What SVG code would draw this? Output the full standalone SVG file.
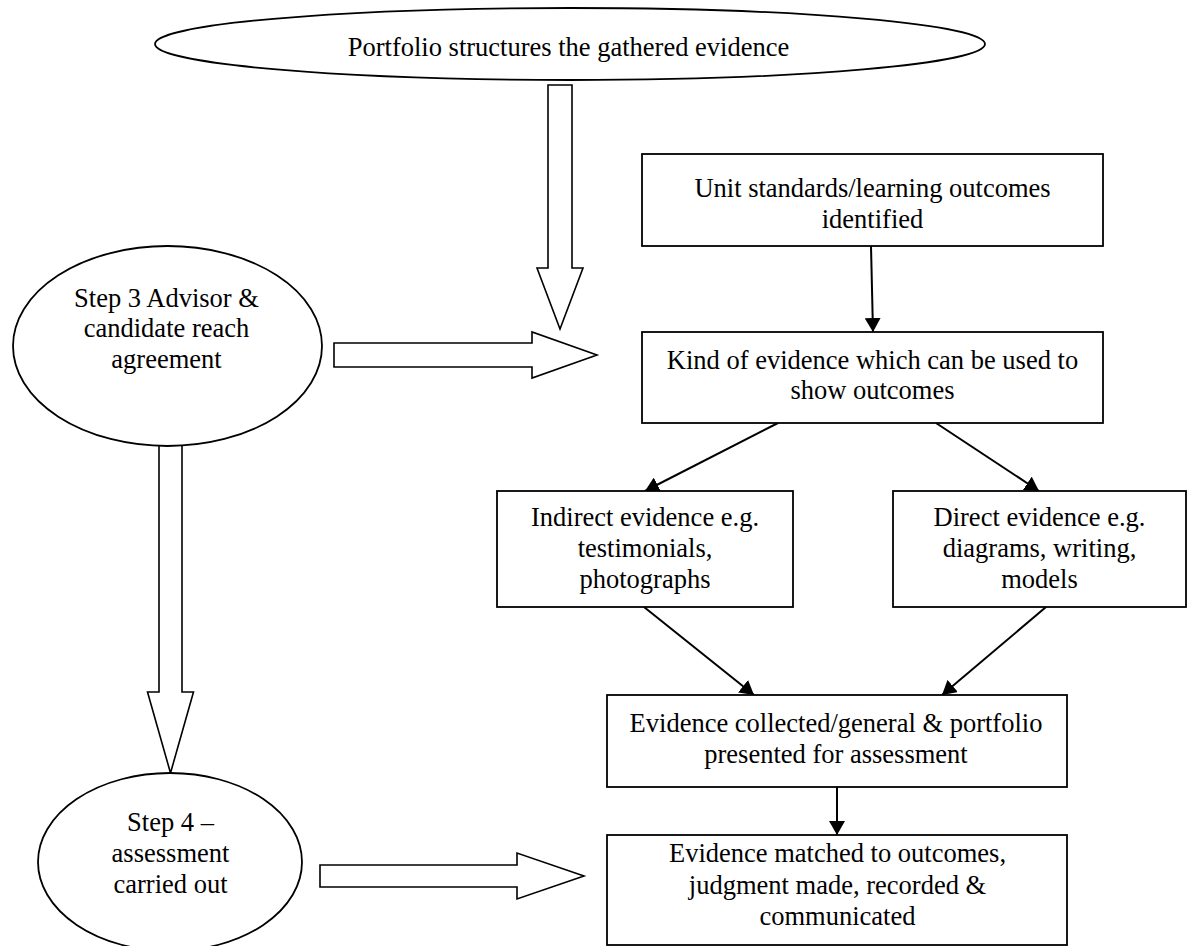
<svg xmlns="http://www.w3.org/2000/svg" width="1188" height="946" viewBox="0 0 1188 946">
<style>
text{font-family:"Liberation Serif","Times New Roman",serif;font-size:26.5px;fill:#000;text-anchor:middle}
.box{fill:#fff;stroke:#000;stroke-width:1.8}
.ell{fill:#fff;stroke:#000;stroke-width:1.8}
.block{fill:#fff;stroke:#000;stroke-width:1.6;stroke-linejoin:miter}
.con{fill:none;stroke:#000;stroke-width:2}
</style>
<defs>
<marker id="ah" markerUnits="userSpaceOnUse" markerWidth="15" markerHeight="16" refX="14" refY="8" orient="auto">
<path d="M0,0 L14,8 L0,16 z" fill="#000"/>
</marker>
</defs>
<rect width="1188" height="946" fill="#fff"/>
<g id="connectors">
<polygon class="block" points="548,85 572,85 572,268 583,268 560,329 537,268 548,268"/>
<polygon class="block" points="334,343 532,343 532,332 597,355 532,378 532,367 334,367"/>
<polygon class="block" points="159,440 182,440 182,692 193.5,692 170.5,773 147.5,692 159,692"/>
<polygon class="block" points="320,865 517,865 517,853 584,876 517,899 517,887 320,887"/>
<line class="con" x1="871" y1="246" x2="873" y2="332" marker-end="url(#ah)"/>
<line class="con" x1="778" y1="423" x2="645" y2="491" marker-end="url(#ah)"/>
<line class="con" x1="936" y1="423" x2="1039" y2="491" marker-end="url(#ah)"/>
<line class="con" x1="644" y1="607" x2="754" y2="695" marker-end="url(#ah)"/>
<line class="con" x1="1046" y1="607" x2="942" y2="695" marker-end="url(#ah)"/>
<line class="con" x1="837" y1="787" x2="837" y2="835" marker-end="url(#ah)"/>
</g>
<g id="portfolio">
<ellipse class="ell" cx="570" cy="44" rx="415" ry="36"/>
<text x="568.5" y="56">Portfolio structures the gathered evidence</text>
</g>
<g id="step3">
<ellipse class="ell" cx="167.5" cy="346" rx="154.5" ry="100"/>
<text x="166.5" y="307">Step 3 Advisor &amp;</text>
<text x="166.5" y="337">candidate reach</text>
<text x="166.5" y="368">agreement</text>
</g>
<g id="step4">
<ellipse class="ell" cx="170" cy="862" rx="132" ry="89"/>
<text x="170.5" y="831">Step 4 –</text>
<text x="170.5" y="862">assessment</text>
<text x="170.5" y="893">carried out</text>
</g>
<g id="unit">
<rect class="box" x="642" y="154" width="461" height="92"/>
<text x="872.5" y="197">Unit standards/learning outcomes</text>
<text x="872.5" y="228">identified</text>
</g>
<g id="kind">
<rect class="box" x="642" y="332" width="461" height="91"/>
<text x="872.5" y="369">Kind of evidence which can be used to</text>
<text x="872.5" y="399">show outcomes</text>
</g>
<g id="indirect">
<rect class="box" x="497" y="491" width="296" height="116"/>
<text x="645" y="526">Indirect evidence e.g.</text>
<text x="645" y="557">testimonials,</text>
<text x="645" y="588">photographs</text>
</g>
<g id="direct">
<rect class="box" x="893" y="491" width="293" height="116"/>
<text x="1039.5" y="526">Direct evidence e.g.</text>
<text x="1039.5" y="557">diagrams, writing,</text>
<text x="1039.5" y="588">models</text>
</g>
<g id="collected">
<rect class="box" x="607" y="695" width="460" height="92"/>
<text x="836" y="732">Evidence collected/general &amp; portfolio</text>
<text x="836" y="763">presented for assessment</text>
</g>
<g id="matched">
<rect class="box" x="607" y="835" width="460" height="110"/>
<text x="837.5" y="862">Evidence matched to outcomes,</text>
<text x="837.5" y="894">judgment made, recorded &amp;</text>
<text x="837.5" y="925">communicated</text>
</g>
</svg>
